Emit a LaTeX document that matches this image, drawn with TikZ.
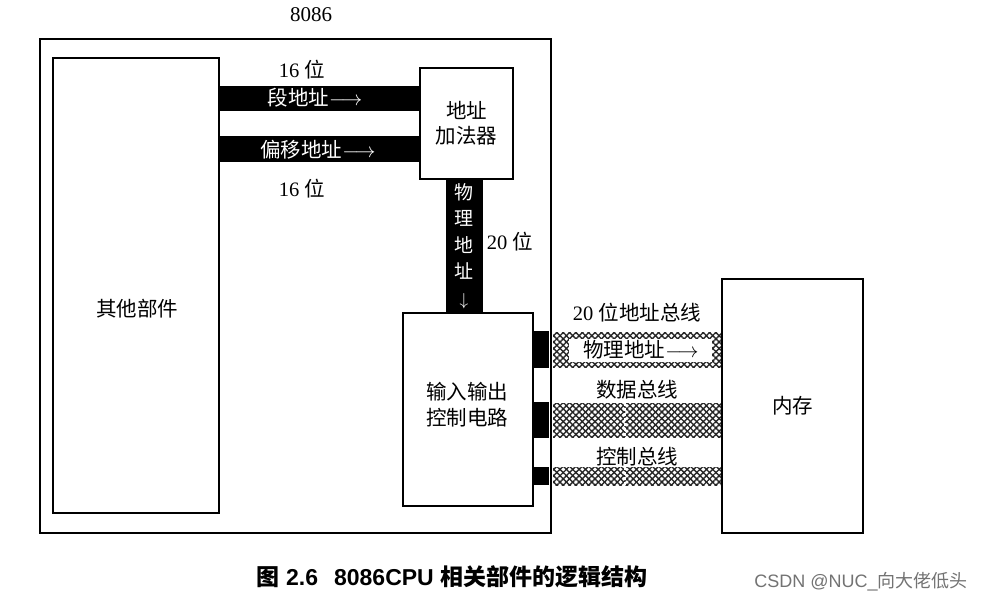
\documentclass[tikz,border=0pt]{standalone}
\usepackage{fontspec}
\setmainfont{Liberation Serif}
\setsansfont{Liberation Sans}
\newfontfamily\cjk{Noto Sans CJK SC}
\usetikzlibrary{patterns,patterns.meta}
\newcommand\zh[1]{{\cjk #1}}
\begin{document}
\begin{tikzpicture}[x=1pt,y=-1pt,
  box/.style={draw=black,fill=white,line width=1.6pt,inner sep=0pt,outer sep=0pt},
  outerbox/.style={draw=black,fill=white,line width=2.2pt,inner sep=0pt,outer sep=0pt},
  blackbar/.style={fill=black,draw=none,inner sep=0pt,outer sep=0pt},
  hatchbar/.style={draw=none,inner sep=0pt,outer sep=0pt,pattern={Lines[angle=45,distance=4.5pt,line width=1.4pt]},pattern color=black!85},
  hatchtwo/.style={pattern={Lines[angle=-45,distance=4.5pt,line width=1.4pt]},pattern color=black!85},
  whitein/.style={fill=white,draw=none,inner sep=0pt,outer sep=0pt},
  lbl/.style={font=\fontsize{20.5}{24}\selectfont,inner sep=0pt,align=center},
  wlbl/.style={lbl,text=white},
  gap/.style={white,line width=1.4pt,dash pattern=on 3pt off 2pt}
]
\useasboundingbox (0,0) rectangle (984,603);
\fill[white] (0,0) rectangle (984,603);

% outer CPU box
\node[outerbox,minimum width=511pt,minimum height=494pt] (cpu) at (295.5,286) {};
\node[lbl,font=\fontsize{21}{23}\selectfont] (t8086) at (311,15) {8086};

% bars
\node[blackbar,minimum width=201pt,minimum height=25pt] (seg) at (319.5,98.5) {};
\node[blackbar,minimum width=201pt,minimum height=26pt] (off) at (319.5,149) {};
\node[blackbar,minimum width=37pt,minimum height=134pt] (phy) at (464.5,246) {};
\node[blackbar,minimum width=16pt,minimum height=37pt] (b1) at (541,349.5) {};
\node[blackbar,minimum width=16pt,minimum height=36pt] (b2) at (541,420) {};
\node[blackbar,minimum width=16pt,minimum height=18pt] (b3) at (541,476) {};

% hatched buses
\node[hatchbar,minimum width=169pt,minimum height=35pt] (abus) at (637.5,349.5) {};
\fill[hatchtwo] (abus.north west) rectangle (abus.south east);
\node[whitein,minimum width=143pt,minimum height=23pt] (abusin) at (640.5,350) {};
\node[hatchbar,minimum width=169pt,minimum height=34pt] (dbus) at (637.5,420) {};
\fill[hatchtwo] (dbus.north west) rectangle (dbus.south east);
\node[hatchbar,minimum width=169pt,minimum height=18pt] (cbus) at (637.5,476) {};
\fill[hatchtwo] (cbus.north west) rectangle (cbus.south east);
\draw[gap] ([xshift=-12.5pt]dbus.north) -- ([xshift=-12.5pt]dbus.south);
\draw[gap] ([xshift=-12.5pt]cbus.north) -- ([xshift=-12.5pt]cbus.south);

% boxes
\node[box,minimum width=166pt,minimum height=455pt] (other) at (136,285.5) {};
\node[box,minimum width=93pt,minimum height=111pt] (adder) at (466.5,123.5) {};
\node[box,minimum width=130pt,minimum height=193pt] (io) at (468,409.5) {};
\node[box,minimum width=141pt,minimum height=254pt] (mem) at (792.5,406) {};

% labels
\node[lbl] (l16a) at (302,70) {16 \zh{位}};
\node[lbl] (l16b) at (302,189) {16 \zh{位}};
\node[wlbl] (lseg) at (315,98) {\zh{段地址}$\longrightarrow$};
\node[wlbl] (loff) at (318,150) {\zh{偏移地址}$\longrightarrow$};
\node[lbl] (ladd) at (adder) {\zh{地址}\\[1pt]\zh{加法器}};
\node[wlbl,font=\fontsize{19}{26.5}\selectfont] (lphy) at (464,246) {\zh{物}\\\zh{理}\\\zh{地}\\\zh{址}\\$\downarrow$};
\node[lbl] (l20) at (510,242) {20 \zh{位}};
\node[lbl] (lother) at (137,309) {\zh{其他部件}};
\node[lbl] (lio) at (467,405) {\zh{输入输出}\\[2pt]\zh{控制电路}};
\node[lbl] (labus) at (637,313) {20 \zh{位地址总线}};
\node[lbl] (lphy2) at (641,350) {\zh{物理地址}$\longrightarrow$};
\node[lbl] (ldbus) at (637,390) {\zh{数据总线}};
\node[lbl] (lcbus) at (637,457) {\zh{控制总线}};
\node[lbl] (lmem) at (mem) {\zh{内存}};

% caption
\node[lbl,font=\fontsize{23}{25}\selectfont\sffamily\bfseries] (cap) at (452,577) {{\cjk\bfseries 图} 2.6\hspace{16pt}8086CPU {\cjk\bfseries 相关部件的逻辑结构}};
\node[lbl,font=\fontsize{18}{20}\selectfont\sffamily,text=black!55] (wm) at (861,582) {CSDN @NUC\_{\cjk 向大佬低头}};
\end{tikzpicture}
\end{document}
